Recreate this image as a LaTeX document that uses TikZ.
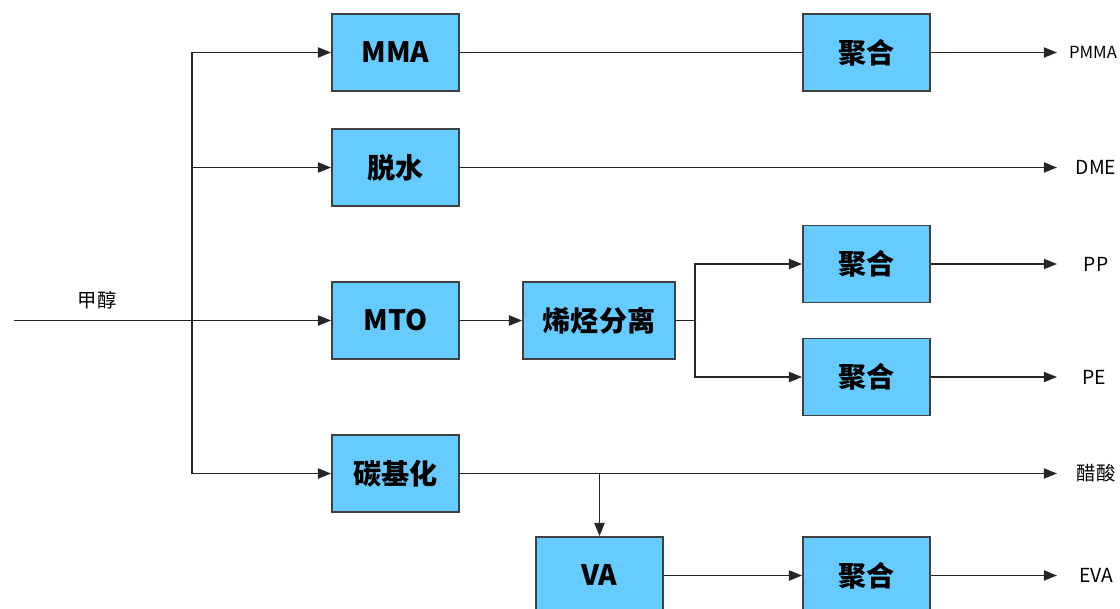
\documentclass[tikz,border=0pt]{standalone}
\usepackage{fontspec}
\setmainfont{Noto Sans CJK SC}
\usetikzlibrary{arrows.meta,positioning,calc}
\definecolor{boxblue}{HTML}{66CCFF}
\definecolor{boxline}{HTML}{404040}
\tikzset{
    proc/.style={draw=boxline, line width=1pt, fill=boxblue, minimum width=2.54cm,
        minimum height=1.54cm, inner sep=0pt, font=\bfseries\fontsize{16}{16}\selectfont},
    prod/.style={inner sep=0pt, font=\fontsize{11}{11}\selectfont},
    flow/.style={-{Triangle[length=7.5pt,width=5.8pt]}, line width=0.9pt, draw=black!85},
    link/.style={line width=0.9pt, draw=black!85}
}

\begin{document}
\begin{tikzpicture}[x=0.02cm, y=-0.02cm]
    \useasboundingbox (0,0) rectangle (1120,609);
    \node [proc] (mma) at (395.5,52.5) { MMA };
    \node [proc] (tuo) at (395.5,167.5) { 脱水 };
    \node [proc] (mto) at (395.5,320.5) { MTO };
    \node [proc] (tanji) at (395.5,473.5) { 碳基化 };
    \node [proc, minimum width=3.04cm] (sep) at (599,320.5) { 烯烃分离 };
    \node [proc] (va) at (599.5,575.5) { VA };
    \node [proc] (ju1) at (866.5,52.5) { 聚合 };
    \node [proc] (ju2) at (866.5,264) { 聚合 };
    \node [proc] (ju3) at (866.5,377) { 聚合 };
    \node [proc] (ju4) at (866.5,575.5) { 聚合 };

    % products on the right
    \node [prod, font=\fontsize{9.5}{9.5}\selectfont] (pmma) at (1093,52.5) { PMMA };
    \node [prod] (dme) at (1096,167.5) { DME };
    \node [prod] (pp) at (1096,264) { PP };
    \node [prod] (pe) at (1094,377) { PE };
    \node [prod] (cusuan) at (1096,473.5) { 醋酸 };
    \node [prod] (eva) at (1096,575.5) { EVA };
    \coordinate (e1) at (1057,52.5);
    \coordinate (e2) at (1057,167.5);
    \coordinate (e3) at (1057,264);
    \coordinate (e4) at (1057,377);
    \coordinate (e5) at (1057,473.5);
    \coordinate (e6) at (1057,575.5);

    % feed
    \coordinate (in) at (14,320.5);
    \coordinate (split) at (192,320.5);
    \node [prod] (jiachun) at (97,300) { 甲醇 };
    \draw [flow] (in) -- (mto);
    \draw [flow] (split) |- (mma);
    \draw [flow] (split) |- (tuo);
    \draw [flow] (split) |- (tanji);

    \draw [link] (mma) -- (ju1);
    \draw [flow] (ju1) -- (e1);
    \draw [flow] (tuo) -- (e2);

    \coordinate (fork) at (695,320.5);
    \draw [flow] (mto) -- (sep);
    \draw [link] (sep) -- (fork);
    \draw [flow] (fork) |- (ju2);
    \draw [flow] (fork) |- (ju3);
    \draw [flow] (ju2) -- (e3);
    \draw [flow] (ju3) -- (e4);

    \coordinate (tap) at (599.5,473.5);
    \draw [flow] (tanji) -- (e5);
    \draw [flow] (tap) -- (va);
    \draw [flow] (va) -- (ju4);
    \draw [flow] (ju4) -- (e6);
\end{tikzpicture}
\end{document}
